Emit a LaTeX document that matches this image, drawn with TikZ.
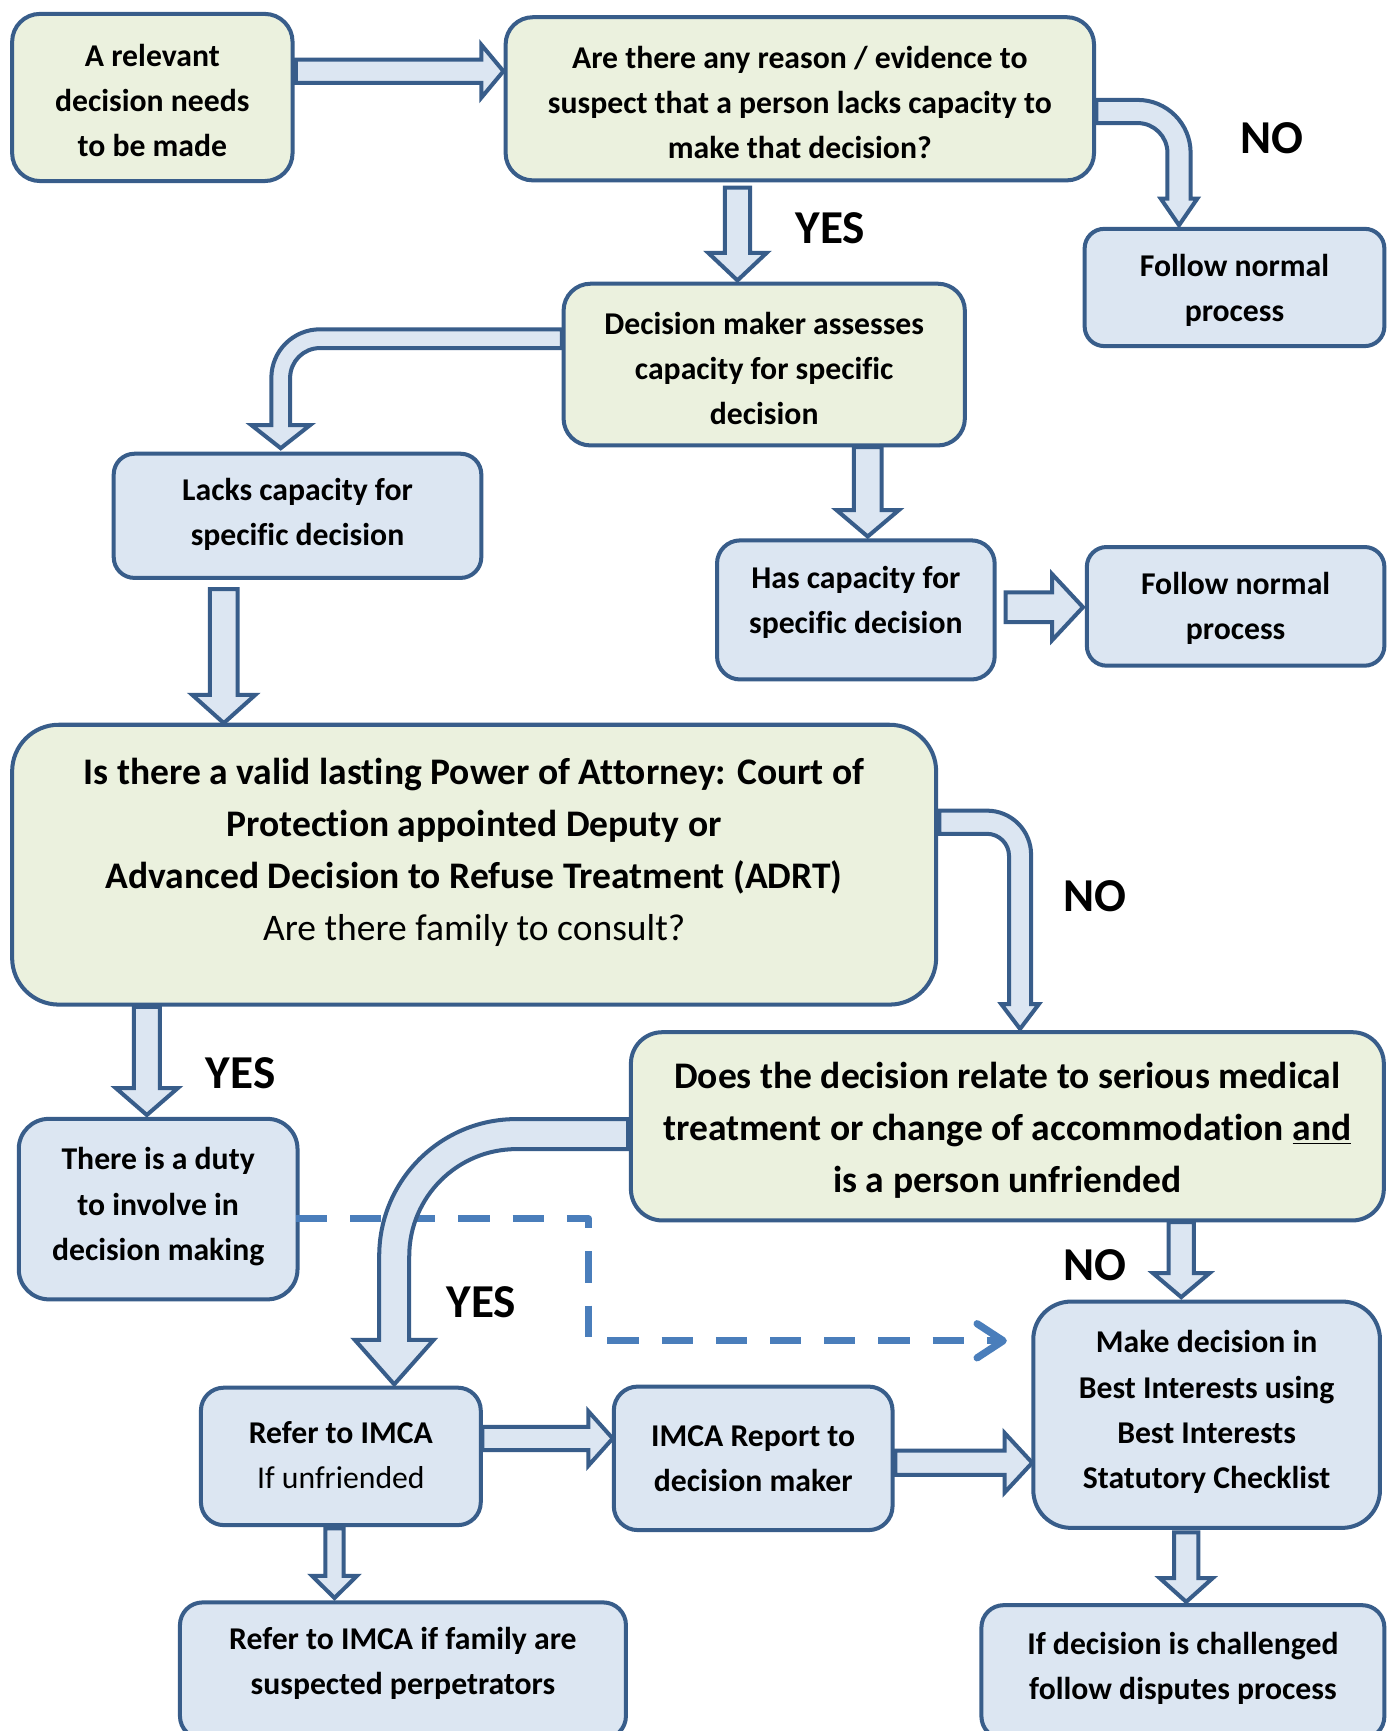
\documentclass[tikz,border=0pt]{standalone}
\usepackage{fontspec}
\setmainfont{Carlito}[Ligatures={NoCommon}]
\usetikzlibrary{arrows.meta}
\definecolor{bord}{HTML}{385D8A}
\definecolor{gfill}{HTML}{EBF1DE}
\definecolor{bfill}{HTML}{DCE6F2}
\definecolor{dashc}{HTML}{4A7EBB}
\newcommand\mkbox[9]{%
 \pgfmathsetmacro\bcx{(#3+#5)/2}%
 \pgfmathsetmacro\bcy{(#4+#6)/2}%
 \pgfmathsetmacro\bw{(#5-#3)*0.55}%
 \pgfmathsetmacro\bh{(#6-#4)*0.55}%
 \pgfmathsetmacro\br{min(\bw,\bh)/6}%
 \node[#1, minimum width=\bw pt, minimum height=\bh pt, rounded corners=\br pt] (#2) at (\bcx,\bcy) {};%
 \node[#8] (#2t) at (\bcx,#7) {#9};%
}
\newcommand\blkdown[6]{\draw[blk] ({#1-#5},#2) -- ({#1+#5},#2) -- ({#1+#5},#3) -- ({#1+#6},#3) -- (#1,#4) -- ({#1-#6},#3) -- ({#1-#5},#3) -- cycle;}
\newcommand\blkright[6]{\draw[blk] (#2,{#1-#5}) -- (#3,{#1-#5}) -- (#3,{#1-#6}) -- (#4,#1) -- (#3,{#1+#6}) -- (#3,{#1+#5}) -- (#2,{#1+#5}) -- cycle;}
\begin{document}
\begin{tikzpicture}[x=0.55pt,y=-0.55pt,
  blk/.style={draw=bord, fill=bfill, line width=2pt, line join=miter},
  gbox/.style={draw=bord, fill=gfill, line width=2pt, inner sep=0pt, outer sep=0pt},
  bbox/.style={draw=bord, fill=bfill, line width=2pt, inner sep=0pt, outer sep=0pt},
  txt/.style={font=\bfseries\fontsize{15.8}{22.5}\selectfont, align=center, inner sep=0pt},
  bigtxt/.style={font=\bfseries\fontsize{18.7}{26}\selectfont, align=center, inner sep=0pt},
  lbl/.style={font=\bfseries\fontsize{23.5}{26}\selectfont, inner sep=0pt},
  dashln/.style={draw=dashc, line width=3.6pt, dash pattern=on 15.5pt off 11.5pt, line join=round}]
\fill[white] (0,0) rectangle (1258,1568);
\useasboundingbox (0,0) rectangle (1258,1568);

\mkbox{gbox}{b1}{11}{12.6}{265}{164}{91}{txt}{A relevant\\decision needs\\to be made}
\mkbox{gbox}{b2}{458}{15.6}{991}{163.4}{93}{txt}{Are there any reason / evidence to\\suspect that a person lacks capacity to\\make that decision?}
\mkbox{bbox}{f1}{982.5}{207.3}{1254}{313.5}{263}{txt}{Follow normal\\process}
\mkbox{gbox}{dm}{510.5}{257}{874}{403.5}{334}{txt}{Decision maker assesses\\capacity for specific\\decision}
\mkbox{bbox}{lk}{103}{411}{436}{523.5}{466}{txt}{Lacks capacity for\\specific decision}
\mkbox{bbox}{hc}{649.5}{489.5}{901}{615.5}{546}{txt}{Has capacity for\\specific decision}
\mkbox{bbox}{f2}{984.5}{495.5}{1254}{603}{551}{txt}{Follow normal\\process}
\mkbox{gbox}{lpa}{11}{656.5}{848}{910}{772}{bigtxt}{Is there a valid lasting Power of Attorney: Court of\\Protection appointed Deputy or\\Advanced Decision to Refuse Treatment (ADRT)\\{\mdseries Are there family to consult?}}
\mkbox{gbox}{ds}{571.5}{935}{1253.5}{1105.5}{1024}{bigtxt}{Does the decision relate to serious medical\\treatment or change of accommodation \underline{and}\\is a person unfriended}
\mkbox{bbox}{du}{17}{1013.5}{269.5}{1177}{1093}{txt}{There is a duty\\to involve in\\decision making}
\mkbox{bbox}{mk}{936}{1179}{1250}{1384}{1279}{txt}{Make decision in\\Best Interests using\\Best Interests\\Statutory Checklist}
\mkbox{bbox}{rf}{182}{1257}{435.5}{1381.5}{1318}{txt}{Refer to IMCA\\{\mdseries If unfriended}}
\mkbox{bbox}{im}{556}{1256}{808.5}{1386}{1321}{txt}{IMCA Report to\\decision maker}
\mkbox{bbox}{pp}{163}{1451.5}{567}{1575}{1507}{txt}{Refer to IMCA if family are\\suspected perpetrators}
\mkbox{bbox}{ch}{889}{1454}{1254}{1575}{1511}{txt}{If decision is challenged\\follow disputes process}

\node[lbl] (no1) at (1152,125) {NO};
\node[lbl] (yes1) at (752,207) {YES};
\node[lbl] (no2) at (992,812) {NO};
\node[lbl] (yes2) at (218,972) {YES};
\node[lbl] (yes3) at (436,1180) {YES};
\node[lbl] (no3) at (992,1146) {NO};

% dashed connector duty -> make decision
\coordinate (d0) at (268,1104);
\coordinate (d1) at (533,1104);
\coordinate (d2) at (533,1214.5);
\coordinate (d3) at (912,1214.5);
\draw[dashln, -{Straight Barb[length=13pt,width=17pt,round]}] (d0) -- (d1) -- (d2) -- (d3);

% straight block arrows
\blkright{64.5}{268}{436}{456}{10.5}{24}
\blkdown{668}{170}{229}{254}{11.5}{26.5}
\blkdown{786}{405}{462}{486}{12.5}{28.3}
\blkright{550}{911}{953}{981}{13.5}{30}
\blkdown{202.7}{533.7}{629.4}{655}{12.5}{28.6}
\blkdown{133}{912}{985.7}{1010}{11.8}{28}
\blkdown{1070}{1107}{1153.3}{1175}{11.5}{25.6}
\blkright{1325}{811}{910}{935}{11}{27}
\blkdown{1074.5}{1388}{1429.5}{1451}{11}{24}
\blkright{1303}{437}{533}{555}{10.5}{24.6}
\blkdown{303}{1384.5}{1427.4}{1447.5}{8.2}{20.4}

% curved block arrows
\draw[blk] (993,90.5) -- (1030.5,90.5) .. controls (1057,90.5) and (1078.5,112) .. (1078.5,138.5) -- (1078.5,180) -- (1084.5,180) -- (1068,204) -- (1051.5,180) -- (1057.5,180) -- (1057.5,138.5) .. controls (1057.5,123.6) and (1045.4,111.5) .. (1030.5,111.5) -- (993,111.5) -- cycle;
\draw[blk] (509,298.3) -- (289.8,298.3) .. controls (265.5,298.3) and (245.8,318.0) .. (245.8,342.3) -- (245.8,385) -- (227.6,385) -- (254.3,406) -- (281,385) -- (262.8,385) -- (262.8,342.3) .. controls (262.8,327.4) and (274.9,315.3) .. (289.8,315.3) -- (509,315.3) -- cycle;
\draw[blk] (851,734.3) -- (894,734.3) .. controls (916.1,734.3) and (934,752.2) .. (934,774.3) -- (934,909.6) -- (941,909.6) -- (924,932) -- (907,909.6) -- (914,909.6) -- (914,775.3) .. controls (914,764.3) and (905,755.3) .. (894,755.3) -- (851,755.3) -- cycle;
\draw[blk] (569,1013.7) -- (467.5,1013.7) .. controls (399.1,1013.7) and (343.5,1069.3) .. (343.5,1137.7) -- (343.5,1213.6) -- (321.3,1213.6) -- (357.1,1254) -- (392.9,1213.6) -- (370.7,1213.6) -- (370.7,1137.9) .. controls (370.7,1084.4) and (414.2,1040.9) .. (467.7,1040.9) -- (569,1040.9) -- cycle;
\end{tikzpicture}
\end{document}
